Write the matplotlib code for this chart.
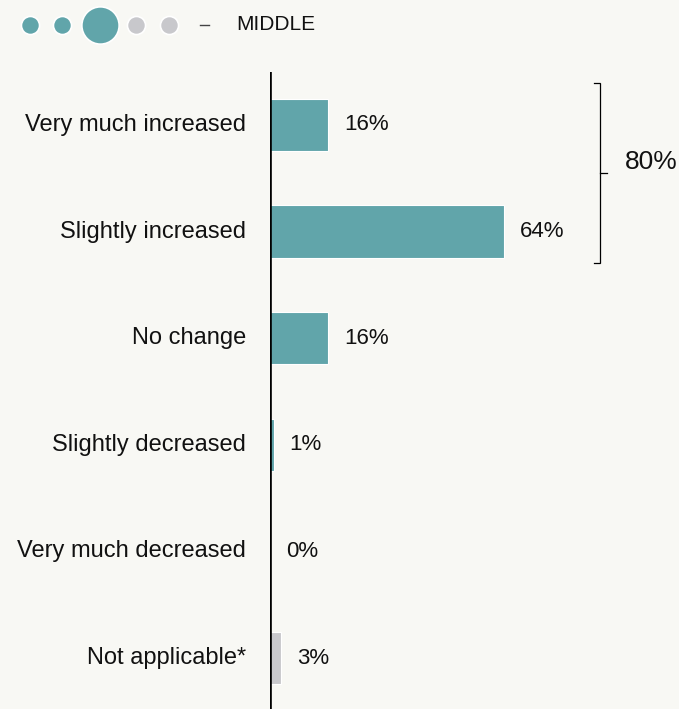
import matplotlib.pyplot as plt
from matplotlib.lines import Line2D

plt.rcParams["font.family"] = ["Liberation Sans", "DejaVu Sans"]

# --------------------------- data ---------------------------
categories = [
    "Very much increased",
    "Slightly increased",
    "No change",
    "Slightly decreased",
    "Very much decreased",
    "Not applicable*",
]
values = [16, 64, 16, 1, 0, 3]
bracket_rows = [0, 1]          # rows summed in the bracket
legend_levels = ["", "", "MIDDLE", "", ""]
legend_selected = 2

TEAL = "#61a5aa"
GREY = "#c8c8cc"
BG = "#f8f8f4"

W, H = 679, 709
fig = plt.figure(figsize=(W / 100, H / 100), dpi=100, facecolor=BG)

# main bar axes: left edge at the vertical axis line
px_per_pct = 3.65
left_px, top_px = 270, 72
ax = fig.add_axes([left_px / W, 0, (W - left_px) / W, (H - top_px) / H])
ax.set_facecolor(BG)
ax.set_xlim(0, (W - left_px) / px_per_pct)
ax.set_ylim(5.478, -0.497)

rows = list(range(len(categories)))
colors = [GREY if c.startswith("Not applicable") else TEAL for c in categories]
ax.barh(rows, values, height=0.49, color=colors, edgecolor="white", linewidth=0.8)

for r, v in zip(rows, values):
    ax.text(v + 4.4, r, f"{v}%", va="center", ha="left", fontsize=16, color="#111111")

for r, c in zip(rows, categories):
    ax.annotate(c, xy=(0, r), xytext=(-24, 0), textcoords="offset pixels",
                ha="right", va="center", fontsize=17, color="#111111",
                annotation_clip=False)

for s in ax.spines.values():
    s.set_visible(False)
ax.axvline(0, color="black", linewidth=1.9)
ax.set_xticks([])
ax.set_yticks([])

# bracket around the "increased" rows
bx = 90.4
b_top, b_bot = bracket_rows[0] - 0.394, bracket_rows[-1] + 0.295
b_mid = (b_top + b_bot) / 2
hook = 1.6
ax.add_line(Line2D([bx - hook, bx, bx, bx - hook], [b_top, b_top, b_bot, b_bot],
                   color="black", linewidth=0.9, solid_joinstyle="miter"))
ax.add_line(Line2D([bx, bx + 1.9], [b_mid, b_mid], color="black", linewidth=0.9))
total = sum(values[i] for i in bracket_rows)
ax.text(bx + 6.8, b_mid - 0.1, f"{total}%", ha="left", va="center", fontsize=19,
        color="#111111")

# scale legend at the top, in pixel coordinates
lax = fig.add_axes([0, 1 - 50 / H, 1, 50 / H])
lax.set_xlim(0, W)
lax.set_ylim(50, 0)
lax.axis("off")
dot_x = [29.5, 62, 99.5, 136, 169]
for i, (x, lab) in enumerate(zip(dot_x, legend_levels)):
    big = i == legend_selected
    lax.scatter([x], [24.5], s=720 if big else 170,
                color=TEAL if i <= legend_selected else GREY,
                edgecolors="white", linewidths=1.2, zorder=3)
lax.plot([200, 209], [24.5, 24.5], color="#444444", linewidth=1.0)
lax.text(236, 24.5, legend_levels[legend_selected], ha="left", va="center",
         fontsize=15, color="#111111")

fig.savefig("out.png", dpi=100, facecolor=BG)
